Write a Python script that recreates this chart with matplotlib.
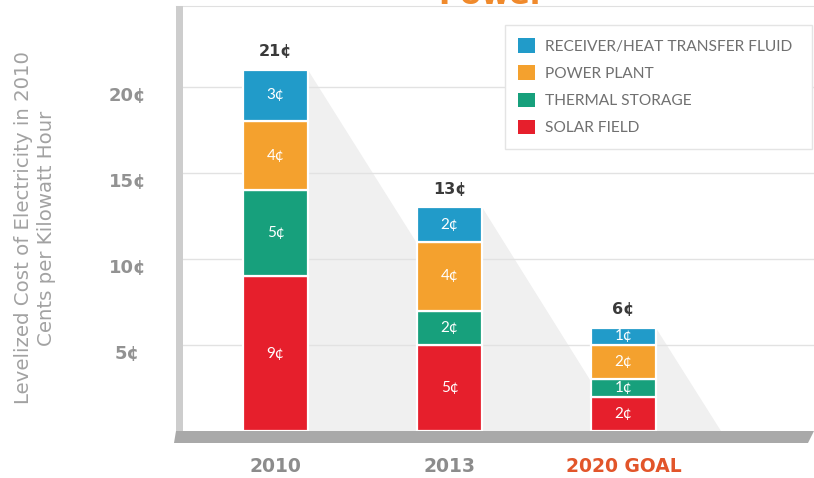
import matplotlib.pyplot as plt
import numpy as np
from matplotlib.patches import Polygon, Rectangle, Patch
from matplotlib.transforms import ScaledTranslation

# Data (cents per kWh)
years = ['2010', '2013', '2020 GOAL']
solar_field = [9, 5, 2]
thermal_storage = [5, 2, 1]
power_plant = [4, 4, 2]
receiver_htf = [3, 2, 1]
totals = [21, 13, 6]

series = [
    ('SOLAR FIELD', solar_field, '#e61f2c'),
    ('THERMAL STORAGE', thermal_storage, '#17a07c'),
    ('POWER PLANT', power_plant, '#f4a12e'),
    ('RECEIVER/HEAT TRANSFER FLUID', receiver_htf, '#219bc9'),
]
yticks = [5, 10, 15, 20]

fig = plt.figure(figsize=(8.14, 4.78), dpi=100)
W, H = 814, 478
ax = fig.add_axes([176 / W, (H - 431) / H, 638 / W, 425 / H])

x = np.arange(len(years))
bar_w = 0.375

# light perspective shadows behind the bars
for xi, t in zip(x, totals):
    xr = xi + bar_w / 2
    ax.add_patch(Polygon([(xr, t), (xr, 0), (xr + 0.062 * t, 0)],
                         closed=True, facecolor='#f0f0f0', edgecolor='none', zorder=0.5))

bottom = np.zeros(len(years))
for name, vals, color in series:
    ax.bar(x, vals, bar_w, bottom=bottom, color=color, edgecolor='white',
           linewidth=1.6, zorder=2, label=name)
    for xi, b, v in zip(x, bottom, vals):
        ax.text(xi, b + v / 2, f'{v}¢', ha='center', va='center', color='white',
                fontsize=11, family='Lato', zorder=3)
    bottom += np.array(vals)

for xi, t in zip(x, totals):
    ax.text(xi, t + 1.05, f'{t}¢', ha='center', va='center', color='#3a3a3a',
            fontsize=11.5, fontweight='bold', family='DejaVu Sans')

ax.set_xlim(-0.572, 3.095)
ax.set_ylim(0, 24.7)

ax.set_yticks(yticks)
ax.set_yticklabels([f'{v}¢' for v in yticks])
ax.tick_params(axis='y', length=0, pad=35, labelsize=13, labelcolor='#929292')
for lab in ax.get_yticklabels():
    lab.set_horizontalalignment('center')
    lab.set_fontweight('bold')
    lab.set_transform(lab.get_transform() + ScaledTranslation(0, -0.07, fig.dpi_scale_trans))

ax.set_xticks(x)
ax.set_xticklabels(years)
ax.tick_params(axis='x', length=0, pad=19, labelsize=13.5)
for i, lab in enumerate(ax.get_xticklabels()):
    lab.set_fontweight('bold')
    lab.set_color('#e2552a' if i == 2 else '#8c8c8c')

ax.grid(axis='y', color='#e2e2e2', linewidth=1, zorder=0.8)
ax.set_axisbelow(True)
for s in ['left', 'right', 'bottom']:
    ax.spines[s].set_visible(False)
ax.spines['top'].set_color('#e0e0e0')

# left wall and floor
fig.add_artist(Rectangle((176 / W, (H - 431) / H), 7 / W, 425 / H,
                         transform=fig.transFigure, facecolor='#cdcdcd', edgecolor='none'))
fig.add_artist(Polygon([(176 / W, (H - 431) / H), (W / W, (H - 431) / H),
                        (808 / W, (H - 443) / H), (174 / W, (H - 443) / H)],
                       closed=True, transform=fig.transFigure,
                       facecolor='#a9a9a9', edgecolor='none'))

# legend
handles = [Patch(facecolor=c, edgecolor='none') for _, _, c in series][::-1]
labels = [n for n, _, _ in series][::-1]
leg = ax.legend(handles, labels, loc='upper left',
                bbox_to_anchor=(505 / W, (H - 157) / H, 307 / W, 132 / H),
                bbox_transform=fig.transFigure, mode='expand', borderaxespad=0,
                handlelength=1.05, handleheight=1.05, handletextpad=0.7,
                labelspacing=0.75, borderpad=0.85, fancybox=False, framealpha=1,
                edgecolor='#e4e4e4', prop={'family': 'Lato', 'size': 11.2})
for t in leg.get_texts():
    t.set_color('#707070')
leg.set_zorder(5)

fig.text(35 / W, 1 - 228 / H,
         'Levelized Cost of Electricity in 2010\nCents per Kilowatt Hour',
         rotation=90, ha='center', va='center', multialignment='center',
         color='#a2a2a2', fontsize=14.2, family='DejaVu Sans',
         linespacing=1.25)

fig.text(492 / W, 1 - 4 / H, 'Power', ha='center', va='baseline',
         color='#f08a2c', fontsize=22, fontweight='bold', family='DejaVu Sans')

fig.savefig('out.png', dpi=100)
